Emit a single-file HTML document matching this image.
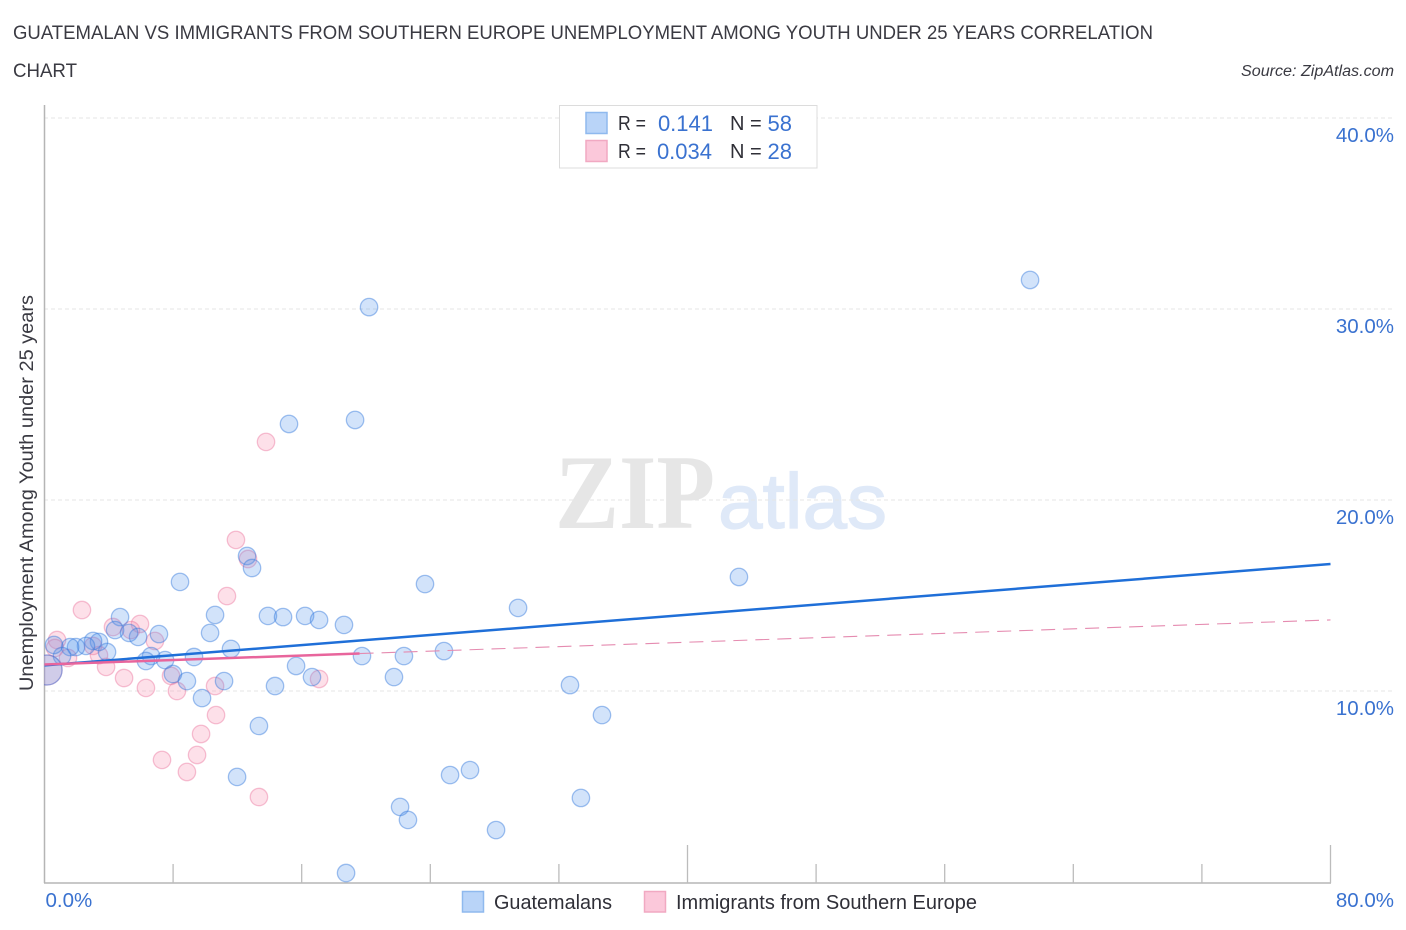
<!DOCTYPE html>
<html>
<head>
<meta charset="utf-8">
<title>Guatemalan vs Immigrants from Southern Europe Unemployment Among Youth Under 25 Years Correlation Chart</title>
<style>
html,body{margin:0;padding:0;background:#fff;width:1406px;height:930px;overflow:hidden}
svg{display:block}
text{font-family:"Liberation Sans",sans-serif}
</style>
</head>
<body>
<svg id="chart" xmlns="http://www.w3.org/2000/svg" width="1406" height="930" viewBox="0 0 1406 930">
  <defs><clipPath id="plot-clip"><rect x="44" y="100" width="1300" height="782.5"/></clipPath></defs>
  <text x="13" y="39" font-size="19" fill="#3a3a42" textLength="1140" lengthAdjust="spacingAndGlyphs">GUATEMALAN VS IMMIGRANTS FROM SOUTHERN EUROPE UNEMPLOYMENT AMONG YOUTH UNDER 25 YEARS CORRELATION</text>
  <text x="13" y="77" font-size="19" fill="#3a3a42" textLength="64" lengthAdjust="spacingAndGlyphs">CHART</text>
  <text x="1394" y="76" font-size="15.5" font-style="italic" fill="#3a3a42" text-anchor="end" textLength="153" lengthAdjust="spacingAndGlyphs">Source: ZipAtlas.com</text>

  <g>
    <text x="555" y="528" font-size="106" font-weight="bold" fill="#e6e6e6" style="font-family:'Liberation Serif',serif" textLength="160" lengthAdjust="spacingAndGlyphs">ZIP</text>
    <text x="718" y="528" font-size="78" fill="#dfe9f8" stroke="#dfe9f8" stroke-width="1.2" textLength="169" lengthAdjust="spacingAndGlyphs">atlas</text>
  </g>

  <g id="grid"></g>
  <g id="axes"></g>
  <g id="marks" clip-path="url(#plot-clip)"></g>
  <g id="trends"></g>
  <g id="ticklabels"></g>

  <text transform="translate(33,691) rotate(-90)" font-size="19" fill="#3a3a42" textLength="396" lengthAdjust="spacingAndGlyphs">Unemployment Among Youth under 25 years</text>

  <g>
    <rect x="559.5" y="105.5" width="257.5" height="62.5" fill="#fff" stroke="#dcdcdc" stroke-width="1"/>
    <rect x="586" y="112.5" width="21" height="21" fill="#b9d4f8" stroke="#8fb9ee" stroke-width="1.5"/>
    <rect x="586" y="140.5" width="21" height="21" fill="#fbc8da" stroke="#f1a9c2" stroke-width="1.5"/>
    <text x="618" y="130" font-size="20" fill="#2f2f37" textLength="28" lengthAdjust="spacingAndGlyphs">R =</text>
    <text x="713" y="131" font-size="22" fill="#3a72d0" text-anchor="end">0.141</text>
    <text x="730" y="130" font-size="20" fill="#2f2f37">N =</text>
    <text x="792" y="131" font-size="22" fill="#3a72d0" text-anchor="end">58</text>
    <text x="618" y="158" font-size="20" fill="#2f2f37" textLength="28" lengthAdjust="spacingAndGlyphs">R =</text>
    <text x="712" y="159" font-size="22" fill="#3a72d0" text-anchor="end">0.034</text>
    <text x="730" y="158" font-size="20" fill="#2f2f37">N =</text>
    <text x="792" y="159" font-size="22" fill="#3a72d0" text-anchor="end">28</text>
  </g>

  <g>
    <rect x="462.5" y="891.5" width="21" height="20.5" fill="#b9d4f8" stroke="#8fb9ee" stroke-width="1.5"/>
    <text x="494" y="909" font-size="20" fill="#2f2f37" textLength="118" lengthAdjust="spacingAndGlyphs">Guatemalans</text>
    <rect x="644.5" y="891.5" width="21" height="20.5" fill="#fbc8da" stroke="#f1a9c2" stroke-width="1.5"/>
    <text x="676" y="909" font-size="20" fill="#2f2f37" textLength="301" lengthAdjust="spacingAndGlyphs">Immigrants from Southern Europe</text>
  </g>
</svg>
<script>
const blueX = [61.31,20.19,15.21,19.32,43.20,29.46,23.67,8.43,12.60,12.91,10.61,13.90,14.84,16.21,17.08,18.63,4.70,4.39,5.26,7.12,5.82,10.30,11.60,24.85,22.36,19.75,9.30,7.50,6.63,6.31,3.89,3.39,3.02,2.58,1.96,1.59,1.09,0.59,15.65,16.64,21.74,32.69,14.34,11.17,8.86,7.99,9.80,34.68,13.34,11.98,25.23,26.47,33.37,22.12,22.61,28.09,18.76,0.16];
const blueY = [31.52,30.10,23.98,24.19,15.97,14.35,15.60,15.71,17.07,16.44,13.98,13.93,13.87,13.93,13.72,13.46,13.87,13.19,13.04,12.98,12.83,13.04,12.20,12.09,11.83,11.83,11.78,11.62,11.83,11.57,12.04,12.57,12.62,12.36,12.30,12.30,11.83,12.41,11.31,10.73,10.73,10.31,10.26,10.52,10.52,10.89,9.63,8.74,8.17,5.50,5.60,5.86,4.40,3.93,3.25,2.72,0.47,11.10];
const pinkX = [13.78,11.91,12.66,11.35,2.33,0.78,4.26,5.94,5.38,6.87,3.39,3.02,3.83,4.95,6.31,7.87,8.24,10.61,17.08,10.67,9.74,9.49,7.31,8.86,13.34,0.65,1.46,0.16];
const pinkY = [23.04,17.91,16.91,14.97,14.24,12.67,13.35,13.51,13.19,12.62,11.88,12.36,11.26,10.68,10.16,10.79,10.00,10.26,10.63,8.74,7.75,6.65,6.39,5.76,4.45,12.25,11.73,11.10];
const largeBlueIndex = 57;
const largePinkIndex = 27;
const blueTrend = [11.34, 16.65];
const pinkTrend = [11.39, 13.72];
const pinkSolidEnd = 19.6;
const yTickValues = [10, 20, 30, 40];
const yTickLabels = ["10.0%", "20.0%", "30.0%", "40.0%"];
const xTickValues = [0, 8, 16, 24, 32, 40, 48, 56, 64, 72, 80];
const xMajorTicks = [40, 80];
const xEdgeValues = [0, 80];
const xEdgeLabels = ["0.0%", "80.0%"];

const NS = "http://www.w3.org/2000/svg";
function xScale(v){ return 44.5 + v * 16.075; }
function yScale(v){ return 882 - v * 19.1; }
function make(tag, attrs, parent){
  const el = document.createElementNS(NS, tag);
  for (const k in attrs) el.setAttribute(k, attrs[k]);
  document.getElementById(parent).appendChild(el);
  return el;
}

yTickValues.forEach(function(v){
  const g = make("line", {x1:44, x2:1393, y1:yScale(v), y2:yScale(v), stroke:"#e6e6e6", "stroke-width":1, "stroke-dasharray":"4 3"}, "grid");
  
  
});

const yAxisLine = make("line", {x1:44.5, x2:44.5, y1:105, y2:883, stroke:"#b5b5b5", "stroke-width":1.5}, "axes");


const xAxisLine = make("line", {x1:44, x2:1331, y1:883, y2:883, stroke:"#b5b5b5", "stroke-width":1.5}, "axes");


xTickValues.forEach(function(v){
  if (v === 0) return;
  const top = xMajorTicks.indexOf(v) >= 0 ? 845 : 864;
  const t = make("line", {x1:xScale(v), x2:xScale(v), y1:top, y2:883, stroke:"#bcbcbc", "stroke-width":1.3}, "axes");
  
  
});

function drawPoints(xs, ys, largeIndex, fill, stroke, name){
  xs.forEach(function(x, i){
    const c = make("circle", {cx:xScale(x), cy:yScale(ys[i]), r:i === largeIndex ? 15 : 8.7, fill:fill, stroke:stroke, "stroke-width":1.3}, "marks");
    
    
  });
}
drawPoints(pinkX, pinkY, largePinkIndex, "rgba(246,140,175,0.27)", "rgba(236,120,160,0.45)", "point-immigrants");
drawPoints(blueX, blueY, largeBlueIndex, "rgba(80,145,235,0.26)", "rgba(50,120,220,0.45)", "point-guatemalans");

function trendAt(tr, x){ return tr[0] + (tr[1] - tr[0]) * x / 80; }
const pinkDash = make("line", {x1:xScale(pinkSolidEnd), y1:yScale(trendAt(pinkTrend, pinkSolidEnd)), x2:xScale(80), y2:yScale(pinkTrend[1]), stroke:"#e58bb0", "stroke-width":1.1, "stroke-dasharray":"14 8"}, "trends");


const blueLine = make("line", {x1:xScale(0), y1:yScale(blueTrend[0]), x2:xScale(80), y2:yScale(blueTrend[1]), stroke:"#1f6fd8", "stroke-width":2.5}, "trends");


const pinkLine = make("line", {x1:xScale(0), y1:yScale(pinkTrend[0]), x2:xScale(pinkSolidEnd), y2:yScale(trendAt(pinkTrend, pinkSolidEnd)), stroke:"#e8659c", "stroke-width":2.5}, "trends");



yTickValues.forEach(function(v, i){
  const t = make("text", {x:1394, y:yScale(v) + 24, "font-size":20.5, fill:"#3a72d0", "text-anchor":"end"}, "ticklabels");
  t.textContent = yTickLabels[i];
  
  
});
xEdgeValues.forEach(function(v, i){
  const t = make("text", {x:i === 0 ? xScale(v) + 1 : 1394, y:907, "font-size":20.5, fill:"#3a72d0", "text-anchor":i === 0 ? "start" : "end"}, "ticklabels");
  t.textContent = xEdgeLabels[i];
  
  
});
</script>
</body>
</html>
